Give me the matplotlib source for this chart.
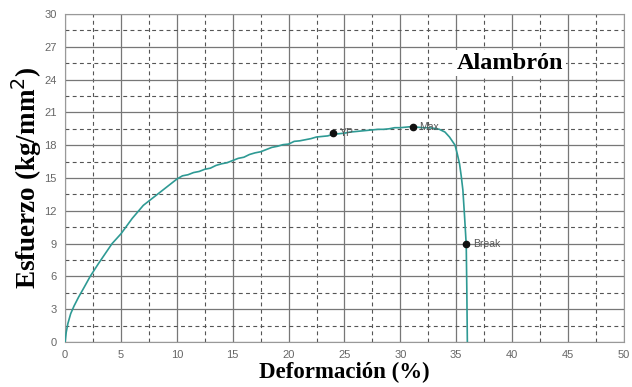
import matplotlib
matplotlib.use("Agg")
import matplotlib.pyplot as plt
from matplotlib.ticker import MultipleLocator

# stress-strain curve
deformacion = [0, 0.1, 0.25, 0.5, 0.8, 1.2, 1.7, 2.24, 3.0, 4.2, 5.0, 6.0, 7.0, 8.0, 9.0,
               10.0, 10.5, 11.0, 11.5, 12.0, 12.5, 13.0, 13.5, 14.0, 14.5, 15.0, 15.5,
               16.0, 16.5, 17.0, 17.5, 18.0, 18.5, 19.0, 19.5, 20.0, 20.5, 21.0, 21.5,
               22.0, 22.5, 23.0, 23.5, 24.0, 24.5, 25.0, 25.5, 26.0, 26.5, 27.0, 27.5,
               28.0, 28.5, 29.0, 29.5, 30.0, 30.5, 31.0, 31.5, 32.0, 32.5, 33.0, 33.5,
               34.0, 34.4, 34.9, 35.1, 35.3, 35.45, 35.6, 35.75, 35.9, 35.95, 36.0]
esfuerzo = [0, 0.9, 1.7, 2.6, 3.3, 4.1, 5.0, 6.0, 7.2, 9.0, 9.9, 11.3, 12.5, 13.3, 14.1,
            14.9, 15.2, 15.3, 15.5, 15.6, 15.8, 15.9, 16.15, 16.3, 16.4, 16.6, 16.8,
            16.9, 17.15, 17.3, 17.4, 17.6, 17.8, 17.9, 18.05, 18.1, 18.35, 18.4, 18.5,
            18.6, 18.75, 18.8, 18.85, 19.0, 19.05, 19.1, 19.2, 19.25, 19.3, 19.35, 19.4,
            19.45, 19.45, 19.5, 19.6, 19.6, 19.65, 19.7, 19.65, 19.6, 19.6, 19.55, 19.45,
            19.2, 18.75, 18.0, 17.2, 16.3, 15.2, 13.9, 11.5, 8.9, 5.0, 0.0]

puntos = ["YP", "Max", "Break"]
puntos_x = [24.0, 31.1, 35.9]
puntos_y = [19.15, 19.7, 8.94]

fig = plt.figure(figsize=(6.32, 3.87), dpi=100)
ax = fig.add_axes([0.103, 0.116, 0.884, 0.848])

ax.plot(deformacion, esfuerzo, color="#2e9a94", lw=1.2, zorder=3)
ax.plot(puntos_x, puntos_y, "o", color="#111111", ms=4.5, zorder=4)
for nombre, px, py in zip(puntos, puntos_x, puntos_y):
    ax.text(px + 0.6, py, nombre, fontsize=7.5, color="#555555",
            family="Liberation Sans", va="center", zorder=4)

ax.set_xlim(0, 50)
ax.set_ylim(0, 30)
ax.xaxis.set_major_locator(MultipleLocator(5))
ax.yaxis.set_major_locator(MultipleLocator(3))
ax.xaxis.set_minor_locator(MultipleLocator(2.5))
ax.yaxis.set_minor_locator(MultipleLocator(1.5))
ax.grid(which="major", color="#777777", lw=0.9, ls="-")
ax.grid(which="minor", color="#555555", lw=0.8, ls=(0, (3.5, 3)))
ax.set_axisbelow(True)
ax.tick_params(which="both", length=0, labelsize=8, labelcolor="#666666", pad=6)
for lab in ax.get_xticklabels() + ax.get_yticklabels():
    lab.set_family("Liberation Sans")
for s in ax.spines.values():
    s.set_color("#999999")

ax.text(39.8, 25.5, "Alambrón", fontsize=17.5, fontweight="bold",
        family="Liberation Serif", ha="center", va="center",
        bbox=dict(facecolor="white", edgecolor="none", pad=2), zorder=5)

ax.set_xlabel("Deformación (%)", fontsize=16.5, fontweight="bold",
              family="Liberation Serif", labelpad=1)
ax.set_ylabel("Esfuerzo (kg/mm$^2$)", fontsize=19.5, fontweight="bold",
              family="Liberation Serif", labelpad=0)

fig.savefig("out.png", dpi=100)
